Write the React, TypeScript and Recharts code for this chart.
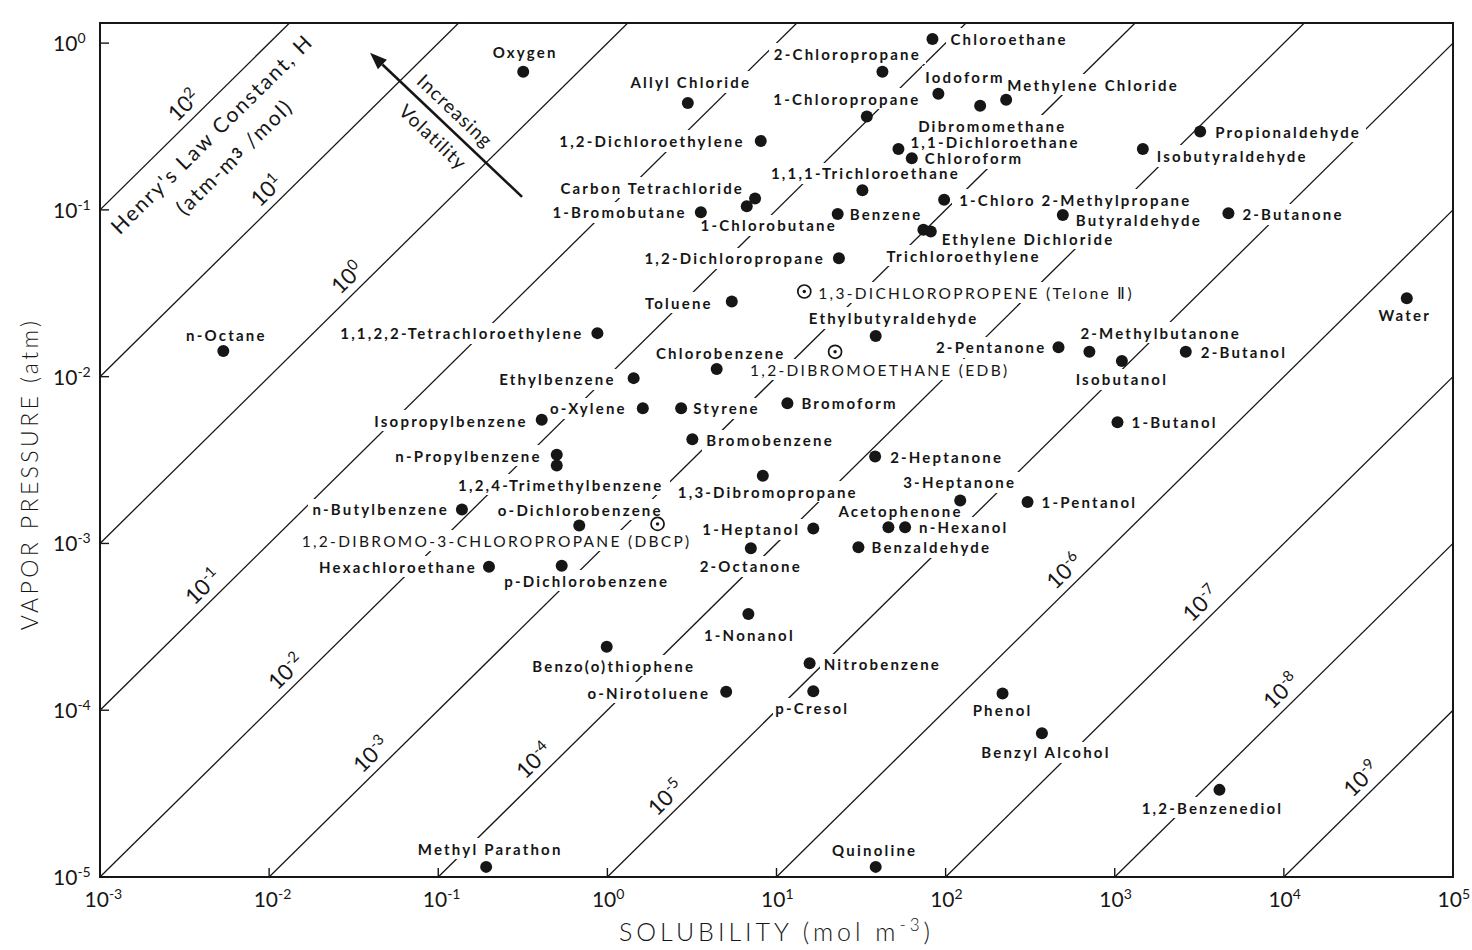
import { ScatterChart, Scatter, XAxis, YAxis, ReferenceLine, ReferenceArea } from 'recharts';

// solubility in mol/m3, vapor pressure in atm
const compounds = [
  'Oxygen', 'Allyl Chloride', '2-Chloropropane', 'Chloroethane', 'Iodoform',
  'Dibromomethane', 'Methylene Chloride', '1-Chloropropane', '1,2-Dichloroethylene', '1,1-Dichloroethane',
  'Chloroform', '1,1,1-Trichloroethane', 'Carbon Tetrachloride', '1-Chlorobutane', '1-Bromobutane',
  'Benzene', '1-Chloro 2-Methylpropane', 'Ethylene Dichloride', 'Trichloroethylene', '1,2-Dichloropropane',
  'Toluene', '1,3-DICHLOROPROPENE (Telone Ⅱ)', 'Propionaldehyde', 'Isobutyraldehyde', 'Butyraldehyde',
  '2-Butanone', 'Water', 'n-Octane', '1,1,2,2-Tetrachloroethylene', 'Isopropylbenzene',
  'n-Propylbenzene', '1,2,4-Trimethylbenzene', 'n-Butylbenzene', '1,2-DIBROMO-3-CHLOROPROPANE (DBCP)', 'Hexachloroethane',
  'Ethylbutyraldehyde', '1,2-DIBROMOETHANE (EDB)', 'Chlorobenzene', 'Ethylbenzene', 'o-Xylene',
  'Styrene', 'Bromoform', 'Bromobenzene', '1,3-Dibromopropane', '2-Heptanone',
  '3-Heptanone', 'Acetophenone', 'n-Hexanol', 'Benzaldehyde', 'o-Dichlorobenzene',
  '1-Heptanol', '2-Octanone', 'p-Dichlorobenzene', '1-Nonanol', '2-Pentanone',
  '2-Methylbutanone', 'Isobutanol', '2-Butanol', '1-Butanol', '1-Pentanol',
  'Benzo(o)thiophene', 'o-Nirotoluene', 'Nitrobenzene', 'p-Cresol', 'Methyl Parathon',
  'Quinoline', 'Phenol', 'Benzyl Alcohol', '1,2-Benzenediol',
];

const solubility = [
  0.318, 2.99, 42.3, 83.6, 90.6,
  160, 228, 34.2, 8.07, 52.6,
  63.1, 32.2, 7.47, 6.67, 3.57,
  23.0, 98.0, 81.7, 73.9, 23.4,
  5.44, 14.6, 3200, 1466, 493,
  4700, 53300, 0.00536, 0.873, 0.409,
  0.502, 0.502, 0.138, 1.98, 0.1995,
  38.6, 22.2, 4.43, 1.43, 1.62,
  2.73, 11.6, 3.18, 8.3, 38.3,
  122, 45.9, 57.6, 30.5, 0.682,
  16.5, 7.05, 0.537, 6.82, 465,
  708, 1102, 2630, 1038, 305,
  0.991, 5.04, 15.7, 16.5, 0.192,
  38.6, 217, 371, 4160,
];

const vaporPressure = [
  0.674, 0.437, 0.674, 1.06, 0.497,
  0.421, 0.457, 0.363, 0.259, 0.232,
  0.204, 0.131, 0.117, 0.105, 0.0968,
  0.0946, 0.115, 0.0741, 0.0759, 0.0513,
  0.0282, 0.0324, 0.295, 0.232, 0.0933,
  0.0955, 0.0295, 0.01425, 0.01824, 0.00551,
  0.0034, 0.00293, 0.0016, 0.00131, 0.000726,
  0.01753, 0.0141, 0.0111, 0.0098, 0.00647,
  0.00647, 0.00693, 0.00422, 0.00255, 0.00332,
  0.00181, 0.00125, 0.00125, 0.00095, 0.00128,
  0.00123, 0.000935, 0.000736, 0.000377, 0.01503,
  0.0141, 0.0124, 0.0141, 0.00533, 0.00177,
  0.00024, 0.000129, 0.000191, 0.00013, 1.15e-5,
  1.15e-5, 0.000126, 7.28e-5, 3.33e-5,
];

// fumigants drawn with an open circle
const openCircle = [
  '1,3-DICHLOROPROPENE (Telone Ⅱ)',
  '1,2-DIBROMO-3-CHLOROPROPANE (DBCP)',
  '1,2-DIBROMOETHANE (EDB)',
];

const solubilityTicks = [1e-3, 1e-2, 1e-1, 1, 10, 100, 1e3, 1e4, 1e5];
const pressureTicks = [1e-5, 1e-4, 1e-3, 1e-2, 1e-1, 1];

// Henry's law constant lines H = P / S (atm-m3/mol), as powers of ten
const henryExponents = [2, 1, 0, -1, -2, -3, -4, -5, -6, -7, -8, -9];
// solubility at which each line's label sits
const henryLabelSolubility = [0.00363, 0.0112, 0.0336, 0.00472, 0.0146, 0.0465, 0.428, 2.57, 585, 3741, 11190, 33270];

// "Increasing Volatility" arrow, head first
const volatilityArrow = [
  { x: 0.0395, y: 0.874 },
  { x: 0.313, y: 0.1197 },
];

const S_DOMAIN: [number, number] = [1e-3, 1e5];
const P_DOMAIN: [number, number] = [1e-5, 1.32];

// chart layout
const W = 1472;
const H = 950;
const PLOT = { left: 100, top: 23, right: 1453, bottom: 877 };
const Y_AXIS_W = 60;
const X_AXIS_H = 30;

const INK = '#161616';
const THIN = "Lato, 'Open Sans', sans-serif";
const LABEL_FONT = "Lato, 'Open Sans', sans-serif";

const lx0 = Math.log10(S_DOMAIN[0]);
const lx1 = Math.log10(S_DOMAIN[1]);
const ly0 = Math.log10(P_DOMAIN[0]);
const ly1 = Math.log10(P_DOMAIN[1]);

// pixels per decade on each log axis
const PX_X = (PLOT.right - PLOT.left) / (lx1 - lx0);
const PX_Y = (PLOT.bottom - PLOT.top) / (ly1 - ly0);
// slope of the constant-H lines on screen
const LINE_ANGLE = (Math.atan2(PX_Y, PX_X) * 180) / Math.PI;

// [dx, dy, anchor] of each name relative to its marker
const labelAt: Record<string, [number, number, 'start' | 'middle' | 'end']> = {
  'Oxygen': [2, -20, 'middle'],
  'Allyl Chloride': [3, -21, 'middle'],
  '2-Chloropropane': [-35, -18, 'middle'],
  'Chloroethane': [18, 0, 'start'],
  'Iodoform': [-13, -17, 'start'],
  'Dibromomethane': [-62, 20, 'start'],
  'Methylene Chloride': [1, -15, 'start'],
  '1-Chloropropane': [-20, -18, 'middle'],
  '1,2-Dichloroethylene': [-16, 0, 'end'],
  '1,1-Dichloroethane': [12, -7, 'start'],
  'Chloroform': [13, 0, 'start'],
  '1,1,1-Trichloroethane': [3, -17, 'middle'],
  'Carbon Tetrachloride': [-11, -11, 'end'],
  '1-Chlorobutane': [22, 19, 'middle'],
  '1-Bromobutane': [-14, 0, 'end'],
  'Benzene': [12, 0, 'start'],
  '1-Chloro 2-Methylpropane': [15, 0, 'start'],
  'Ethylene Dichloride': [11, 7, 'start'],
  'Trichloroethylene': [-37, 26, 'start'],
  '1,2-Dichloropropane': [-14, 0, 'end'],
  'Toluene': [-19, 1, 'end'],
  '1,3-DICHLOROPROPENE (Telone Ⅱ)': [14, 1, 'start'],
  'Propionaldehyde': [15, 0, 'start'],
  'Isobutyraldehyde': [14, 7, 'start'],
  'Butyraldehyde': [13, 5, 'start'],
  '2-Butanone': [14, 1, 'start'],
  'Water': [-2, 17, 'middle'],
  'n-Octane': [3, -16, 'middle'],
  '1,1,2,2-Tetrachloroethylene': [-14, 0, 'end'],
  'Isopropylbenzene': [-14, 1, 'end'],
  'n-Propylbenzene': [-15, 1, 'end'],
  '1,2,4-Trimethylbenzene': [4, 19, 'middle'],
  'n-Butylbenzene': [-13, 0, 'end'],
  '1,2-DIBROMO-3-CHLOROPROPANE (DBCP)': [34, 17, 'end'],
  'Hexachloroethane': [-12, 0, 'end'],
  'Ethylbutyraldehyde': [18, -18, 'middle'],
  '1,2-DIBROMOETHANE (EDB)': [-85, 18, 'start'],
  'Chlorobenzene': [4, -16, 'middle'],
  'Ethylbenzene': [-18, 1, 'end'],
  'o-Xylene': [-16, 0, 'end'],
  'Styrene': [12, 0, 'start'],
  'Bromoform': [14, 0, 'start'],
  'Bromobenzene': [14, 1, 'start'],
  '1,3-Dibromopropane': [5, 16, 'middle'],
  '2-Heptanone': [15, 0, 'start'],
  '3-Heptanone': [-57, -18, 'start'],
  'Acetophenone': [-50, -16, 'start'],
  'n-Hexanol': [14, 0, 'start'],
  'Benzaldehyde': [13, 0, 'start'],
  'o-Dichlorobenzene': [1, -16, 'middle'],
  '1-Heptanol': [-13, 1, 'end'],
  '2-Octanone': [0, 18, 'middle'],
  'p-Dichlorobenzene': [25, 15, 'middle'],
  '1-Nonanol': [1, 21, 'middle'],
  '2-Pentanone': [-12, 0, 'end'],
  '2-Methylbutanone': [-9, -19, 'start'],
  'Isobutanol': [0, 18, 'middle'],
  '2-Butanol': [15, 0, 'start'],
  '1-Butanol': [14, 0, 'start'],
  '1-Pentanol': [14, 0, 'start'],
  'Benzo(o)thiophene': [7, 19, 'middle'],
  'o-Nirotoluene': [-16, 1, 'end'],
  'Nitrobenzene': [14, 1, 'start'],
  'p-Cresol': [-1, 17, 'middle'],
  'Methyl Parathon': [4, -18, 'middle'],
  'Quinoline': [-1, -17, 'middle'],
  'Phenol': [0, 17, 'middle'],
  'Benzyl Alcohol': [4, 19, 'middle'],
  '1,2-Benzenediol': [-7, 18, 'middle'],
};

// clip a constant-H line to the plotting box (in log space)
function henrySegment(e: number) {
  const a = Math.max(lx0, ly0 - e);
  const b = Math.min(lx1, ly1 - e);
  return { a, b };
}

// one layered series so the paint order is fixed:
// H lines, their labels, white knock-outs, names, then markers on top
const layers = [
  ...henryExponents.map((e) => {
    const { a, b } = henrySegment(e);
    return { kind: 'line', exp: e, s: 10 ** a, p: 10 ** (a + e), span: b - a };
  }),
  ...henryExponents.map((e, i) => ({
    kind: 'hlabel',
    exp: e,
    s: henryLabelSolubility[i],
    p: henryLabelSolubility[i] * 10 ** e,
  })),
  ...compounds.map((name, i) => ({ kind: 'halo', name, s: solubility[i], p: vaporPressure[i] })),
  ...compounds.map((name, i) => ({ kind: 'name', name, s: solubility[i], p: vaporPressure[i] })),
  ...compounds.map((name, i) => ({ kind: 'dot', name, s: solubility[i], p: vaporPressure[i] })),
];

function SolubilityTick({ x, y, payload }: any) {
  const e = Math.round(Math.log10(payload.value));
  return (
    <g>
      <line x1={x} y1={y} x2={x} y2={y - 9} stroke={INK} strokeWidth={1.4} />
      <text x={x - 15.5} y={y + 30} fill={INK} fontFamily={THIN} fontSize={21}>
        10<tspan dy={-8} fontSize={14}>{e}</tspan>
      </text>
    </g>
  );
}

function PressureTick({ x, y, payload }: any) {
  const e = Math.round(Math.log10(payload.value));
  return (
    <g>
      <line x1={x} y1={y} x2={x + 9} y2={y} stroke={INK} strokeWidth={1.4} />
      <text x={x - 47} y={y + 8} fill={INK} fontFamily={THIN} fontSize={21}>
        10<tspan dy={-8} fontSize={14}>{e}</tspan>
      </text>
    </g>
  );
}

function SolubilityTitle() {
  return (
    <text
      x={(PLOT.left + PLOT.right) / 2}
      y={PLOT.bottom + 64}
      textAnchor="middle"
      fill={INK}
      fontFamily={THIN}
      fontWeight={300}
      fontSize={25}
      letterSpacing={4}
    >
      SOLUBILITY (mol  m<tspan dy={-10} fontSize={17}>-3</tspan>
      <tspan dy={10}>)</tspan>
    </text>
  );
}

function PressureTitle() {
  const cx = 29;
  const cy = 474;
  return (
    <text
      x={cx}
      y={cy}
      transform={`rotate(-90, ${cx}, ${cy})`}
      textAnchor="middle"
      dominantBaseline="central"
      fill={INK}
      fontFamily={THIN}
      fontWeight={300}
      fontSize={23}
      letterSpacing={3.4}
    >
      VAPOR PRESSURE (atm)
    </text>
  );
}

function HenryLabel({ cx, cy, exp }: any) {
  return (
    <g transform={`translate(${cx},${cy}) rotate(${-LINE_ANGLE})`} fill={INK} fontFamily={THIN}>
      <text y={-8} textAnchor="middle" fontSize={22} stroke="#fff" strokeWidth={4} paintOrder="stroke">
        10<tspan dy={-8} fontSize={15}>{exp}</tspan>
      </text>
      {exp === 2 && (
        <g fontSize={21} letterSpacing={2}>
          <text y={32} textAnchor="middle">Henry's Law Constant, H</text>
          <text y={64} textAnchor="middle">
            (atm-m<tspan dy={-3} fontSize={15} fontWeight={700}>3</tspan>
            <tspan dy={3}> /mol)</tspan>
          </text>
        </g>
      )}
    </g>
  );
}

function VolatilityArrow({ x1, y1, x2, y2 }: any) {
  // (x1, y1) is the head
  const ang = Math.atan2(y2 - y1, x2 - x1);
  const ux = Math.cos(ang);
  const uy = Math.sin(ang);
  const len = 17;
  const half = 6.5;
  const bx = x1 + ux * len;
  const by = y1 + uy * len;
  const head = `${x1},${y1} ${bx - uy * half},${by + ux * half} ${bx + uy * half},${by - ux * half}`;
  const mx = (x1 + x2) / 2;
  const my = (y1 + y2) / 2;
  return (
    <g>
      <line x1={bx} y1={by} x2={x2} y2={y2} stroke={INK} strokeWidth={2.6} />
      <polygon points={head} fill={INK} />
      <g
        transform={`translate(${mx},${my}) rotate(${(ang * 180) / Math.PI})`}
        fill={INK}
        fontFamily={THIN}
        fontSize={19}
        letterSpacing={1.2}
      >
        <text x={-3} y={-17} textAnchor="middle" dominantBaseline="central">Increasing</text>
        <text x={-1} y={17} textAnchor="middle" dominantBaseline="central">Volatility</text>
      </g>
    </g>
  );
}

// floods the text's bounding box with white, so lines stop short of a name
function KnockoutDefs() {
  return (
    <defs>
      <filter id="name-knockout" x="-0.03" y="-0.06" width="1.06" height="1.12">
        <feFlood floodColor="#fff" />
      </filter>
    </defs>
  );
}

function CompoundName({ cx, cy, name, halo }: any) {
  const [dx, dy, anchor] = labelAt[name];
  const caps = openCircle.includes(name);
  return (
    <text
      x={cx + dx}
      y={cy + dy}
      textAnchor={anchor}
      dominantBaseline="central"
      fontFamily={LABEL_FONT}
      fontWeight={caps ? 400 : 700}
      fontSize={caps ? 15.5 : 15}
      letterSpacing={caps ? 2.3 : 2.2}
      fill={halo ? '#fff' : INK}
      filter={halo ? 'url(#name-knockout)' : undefined}
    >
      {name}
    </text>
  );
}

function Marker({ cx, cy, name }: any) {
  if (openCircle.includes(name)) {
    return (
      <g>
        <circle cx={cx} cy={cy} r={6.5} fill="#fff" stroke={INK} strokeWidth={1.7} />
        <circle cx={cx} cy={cy} r={1.7} fill={INK} />
      </g>
    );
  }
  return <circle cx={cx} cy={cy} r={6} fill={INK} />;
}

function LayerShape({ cx, cy, payload }: any) {
  switch (payload.kind) {
    case 'line':
      // the line runs from its clipped start point at one decade per decade
      return (
        <g>
          {payload.exp === henryExponents[0] && <KnockoutDefs />}
          <line
            x1={cx}
            y1={cy}
            x2={cx + payload.span * PX_X}
            y2={cy - payload.span * PX_Y}
            stroke={INK}
            strokeWidth={1.3}
          />
        </g>
      );
    case 'hlabel':
      return <HenryLabel cx={cx} cy={cy} exp={payload.exp} />;
    case 'halo':
      return <CompoundName cx={cx} cy={cy} name={payload.name} halo />;
    case 'name':
      return <CompoundName cx={cx} cy={cy} name={payload.name} />;
    default:
      return <Marker cx={cx} cy={cy} name={payload.name} />;
  }
}

export default function App() {
  return (
    <div style={{ position: 'absolute', left: 0, top: 0, background: '#fff' }}>
      <ScatterChart
        width={W}
        height={H}
        margin={{
          top: PLOT.top,
          right: W - PLOT.right,
          bottom: H - PLOT.bottom - X_AXIS_H,
          left: PLOT.left - Y_AXIS_W,
        }}
      >
        <XAxis
          type="number"
          dataKey="s"
          scale="log"
          domain={S_DOMAIN}
          allowDataOverflow
          ticks={solubilityTicks}
          interval={0}
          height={X_AXIS_H}
          tickSize={0}
          tickMargin={0}
          tickLine={false}
          axisLine={{ stroke: INK, strokeWidth: 2 }}
          tick={(props: any) => <SolubilityTick {...props} />}
          label={<SolubilityTitle />}
        />
        <YAxis
          type="number"
          dataKey="p"
          scale="log"
          domain={P_DOMAIN}
          allowDataOverflow
          ticks={pressureTicks}
          interval={0}
          width={Y_AXIS_W}
          tickSize={0}
          tickMargin={0}
          tickLine={false}
          axisLine={{ stroke: INK, strokeWidth: 2 }}
          tick={(props: any) => <PressureTick {...props} />}
          label={<PressureTitle />}
        />

        <ReferenceArea
          x1={S_DOMAIN[0]}
          x2={S_DOMAIN[1]}
          y1={P_DOMAIN[0]}
          y2={P_DOMAIN[1]}
          fill="none"
          fillOpacity={0}
          stroke={INK}
          strokeWidth={2}
          ifOverflow="visible"
        />

        <ReferenceLine
          segment={volatilityArrow}
          ifOverflow="visible"
          shape={(props: any) => <VolatilityArrow {...props} />}
        />

        <Scatter data={layers} isAnimationActive={false} shape={(props: any) => <LayerShape {...props} />} />
      </ScatterChart>
    </div>
  );
}
